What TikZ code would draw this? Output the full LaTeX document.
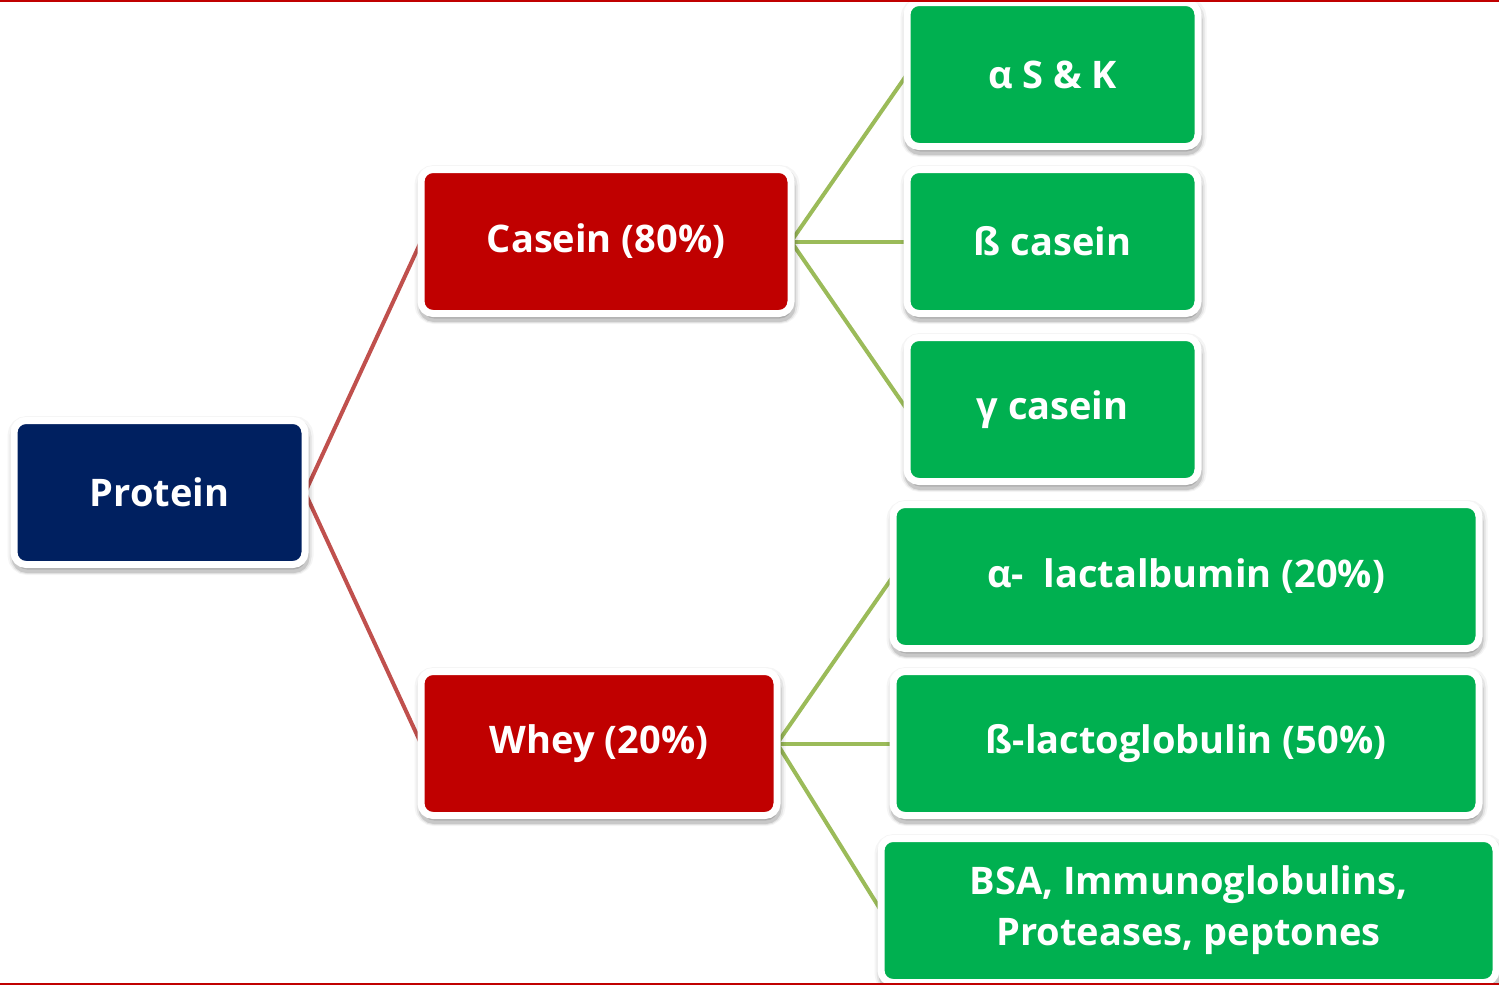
\documentclass[tikz,border=0pt]{standalone}
\usepackage{fontspec}
\setmainfont{Open Sans}
\usetikzlibrary{backgrounds}
\definecolor{navy}{HTML}{002060}
\definecolor{boxred}{HTML}{C00000}
\definecolor{boxgreen}{HTML}{00B050}
\definecolor{linkred}{HTML}{C0504D}
\definecolor{linkgreen}{HTML}{9BBB59}
\tikzset{
  softshadow/.style={
    preaction={draw=black, fill=black, line width=15pt, opacity=0.04, transform canvas={xshift=1pt, yshift=-3pt}},
    preaction={draw=black, fill=black, line width=11pt, opacity=0.07, transform canvas={xshift=1pt, yshift=-4pt}},
    preaction={draw=black, fill=black, line width=7pt, opacity=0.12, transform canvas={xshift=1pt, yshift=-5pt}}},
  box/.style={softshadow, draw=white, line width=7pt, rounded corners=12pt, inner sep=0pt, outer sep=0pt,
    minimum height=144pt, align=center, text=white,
    font=\fontsize{38}{51}\selectfont\bfseries},
  bluebox/.style={box, fill=navy},
  redbox/.style={box, fill=boxred},
  greenbox/.style={box, fill=boxgreen},
  redlink/.style={draw=linkred, line width=4pt},
  greenlink/.style={draw=linkgreen, line width=4pt},
  frameline/.style={draw=boxred, line width=2pt}
}
\begin{document}
\begin{tikzpicture}[x=1pt,y=-1pt]
\useasboundingbox (0,0) rectangle (1499,985);

\node[bluebox, minimum width=291pt] (protein) at (159.5,492.5) {Protein};
\node[redbox, minimum width=370pt] (casein) at (606,241.5) {Casein (80\%)};
\node[redbox, minimum width=356pt] (whey) at (599,743.5) {Whey (20\%)};
\node[greenbox, minimum width=291pt] (ask) at (1052.5,74.5) {α S \& K};
\node[greenbox, minimum width=291pt] (bcas) at (1052.5,241.5) {ß casein};
\node[greenbox, minimum width=291pt] (gcas) at (1052.5,409.5) {γ casein};
\node[greenbox, minimum width=586pt] (alac) at (1186,576.5) {α-\ \ lactalbumin (20\%)};
\node[greenbox, minimum width=586pt] (blac) at (1186,743.5) {ß-lactoglobulin (50\%)};
\node[greenbox, minimum width=615pt] (bsa) at (1188.5,910.5) {BSA, Immunoglobulins,\\Proteases, peptones};

\coordinate (tl) at (0,1); \coordinate (tr) at (1499,1);
\coordinate (bl) at (0,983.5); \coordinate (br) at (1499,983.5);
\draw[frameline] (tl) -- (tr);
\draw[frameline] (bl) -- (br);

\begin{pgfonlayer}{background}
\draw[redlink] (protein.east) -- (casein.west);
\draw[redlink] (protein.east) -- (whey.west);
\draw[greenlink] (casein.east) -- (ask.west);
\draw[greenlink] (casein.east) -- (bcas.west);
\draw[greenlink] (casein.east) -- (gcas.west);
\draw[greenlink] (whey.east) -- (alac.west);
\draw[greenlink] (whey.east) -- (blac.west);
\draw[greenlink] (whey.east) -- (bsa.west);
\end{pgfonlayer}
\end{tikzpicture}
\end{document}
